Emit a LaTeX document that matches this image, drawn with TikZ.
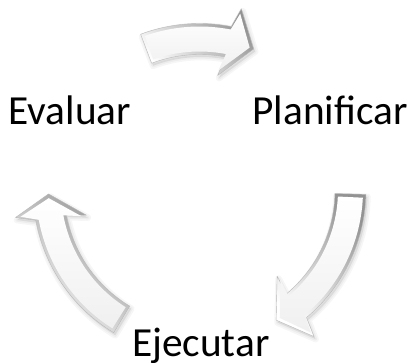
\documentclass[tikz,border=0pt]{standalone}
\usepackage{fontspec}
\setmainfont{Carlito}
\usetikzlibrary{calc}
\def\cx{199.5}
\def\cy{190}
% #1 tail angle, #2 head-base angle, #3 tip angle, #4 half shaft, #5 half head, #6 radius, #7 barb sweep
\newcommand{\arrpath}[7]{%
  plot[domain=#1:#2,samples=40] ({\cx+(#6+#4)*cos(\x)},{\cy-(#6+#4)*sin(\x)})
  -- ({\cx+(#6+#5)*cos(#2-#7)},{\cy-(#6+#5)*sin(#2-#7)})
  -- ({\cx+#6*cos(#3)},{\cy-#6*sin(#3)})
  -- ({\cx+(#6-#5)*cos(#2+#7)},{\cy-(#6-#5)*sin(#2+#7)})
  -- ({\cx+(#6-#4)*cos(#2)},{\cy-(#6-#4)*sin(#2)})
  -- plot[domain=#2:#1,samples=40] ({\cx+(#6-#4)*cos(\x)},{\cy-(#6-#4)*sin(\x)})
  -- cycle}
\newcommand{\cyclearrow}[3]{%
  \pgfmathsetmacro{\ta}{#1}\pgfmathsetmacro{\hb}{#2}\pgfmathsetmacro{\tp}{#3}
  \pgfmathsetmacro{\dir}{(#1>#2)?1:-1}
  % soft shadow
  \begin{scope}[shift={(1.5,2.5)}]
    \draw[softshadow, line width=5pt] \arrpath{\ta}{\hb}{\tp}{15.5}{35}{151}{2};
    \draw[softshadow, line width=2.5pt] \arrpath{\ta}{\hb}{\tp}{15.5}{35}{151}{2};
    \fill[black, fill opacity=0.08] \arrpath{\ta}{\hb}{\tp}{15.5}{35}{151}{2};
  \end{scope}
  % bevel edge
  \path[arredge] \arrpath{\ta}{\hb}{\tp}{15.5}{35}{151}{2};
  % face
  \path[arrface] \arrpath{\ta-1.2*\dir}{\hb}{\tp+1.6*\dir}{12.5}{30}{151}{2};
}
\tikzset{
  softshadow/.style={draw=black, draw opacity=0.035, line join=round},
  arredge/.style={left color=white, right color=gray!85, shading angle=135, draw=gray!55, line width=0.3pt, line join=round},
  arrface/.style={top color=white, bottom color=gray!12, line join=round},
  lbl/.style={font=\fontsize{31}{37}\selectfont, text=black, inner sep=0pt, anchor=base}
}
\begin{document}
\begin{tikzpicture}[x=0.75pt, y=-0.75pt]
  \useasboundingbox (0,0) rectangle (408,362);
  \fill[white] (0,0) rectangle (408,362);
  \cyclearrow{110.7}{79}{69}
  \cyclearrow{-1.5}{-50}{-59.5}
  \cyclearrow{239}{190.5}{181.5}
  \node[lbl] (ev) at (69.7,124.3) {Evaluar};
  \node[lbl] (pl) at (330,124.3) {Planificar};
  \node[lbl] (ej) at (200.8,356.7) {Ejecutar};
\end{tikzpicture}
\end{document}
